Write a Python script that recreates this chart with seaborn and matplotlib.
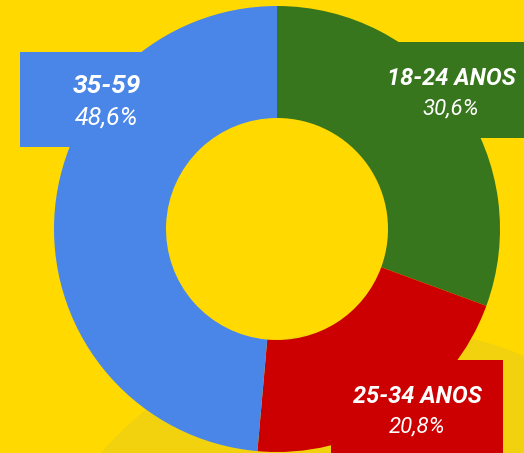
import matplotlib
matplotlib.use("Agg")
import matplotlib.pyplot as plt
import seaborn as sns
from matplotlib.patches import Rectangle, Circle

sns.set_theme(style="white")
plt.rcParams['font.family'] = ['Roboto', 'DejaVu Sans']

categories = ["18-24 ANOS", "25-34 ANOS", "35-59"]
values = [30.6, 20.8, 48.6]
pct_labels = ["30,6%", "20,8%", "48,6%"]
colors = ["#38761D", "#CC0000", "#4A86E8"]

W, H = 524, 453
fig = plt.figure(figsize=(W / 100, H / 100), dpi=100)
fig.patch.set_facecolor("#FFD900")
ax = fig.add_axes([0, 0, 1, 1])
ax.set_facecolor("#FFD900")
ax.set_xlim(0, W)
ax.set_ylim(0, H)

# subtle background shape
ax.add_patch(Circle((380, H - 700), 373, facecolor="#F2D20E", edgecolor="none", zorder=0))

ax.pie(values, colors=colors, startangle=90, counterclock=False,
       center=(277, H - 229), radius=223, frame=True,
       wedgeprops=dict(width=112, edgecolor="none", linewidth=0))
ax.set_xlim(0, W)
ax.set_ylim(0, H)
ax.set_aspect("auto")
ax.axis("off")

# label boxes (x0, y0_top, x1, y1_bottom) in pixel coords (top-down)
boxes = {
    "18-24 ANOS": (378, 42, 530, 138),
    "25-34 ANOS": (331, 360, 503, 460),
    "35-59": (20, 52, 190, 147),
}
# text positions: (cx, baseline_title, baseline_pct, size_title, size_pct)
texts = {
    "18-24 ANOS": (451, 85, 114, 17, 16),
    "25-34 ANOS": (417, 403, 432, 17, 16),
    "35-59": (107, 93, 125, 19, 18),
}
for cat, pct, col in zip(categories, pct_labels, colors):
    x0, y0, x1, y1 = boxes[cat]
    ax.add_patch(Rectangle((x0, H - y1), x1 - x0, y1 - y0, facecolor=col,
                           edgecolor="none", zorder=5))
    cx, b1, b2, s1, s2 = texts[cat]
    ax.text(cx, H - b1, cat, ha="center", va="baseline", color="white",
            fontsize=s1, fontweight="bold", fontstyle="italic", zorder=6)
    ax.text(cx, H - b2, pct, ha="center", va="baseline", color="white",
            fontsize=s2, fontstyle="italic", zorder=6)

fig.savefig("out.png", dpi=100, facecolor=fig.get_facecolor())
